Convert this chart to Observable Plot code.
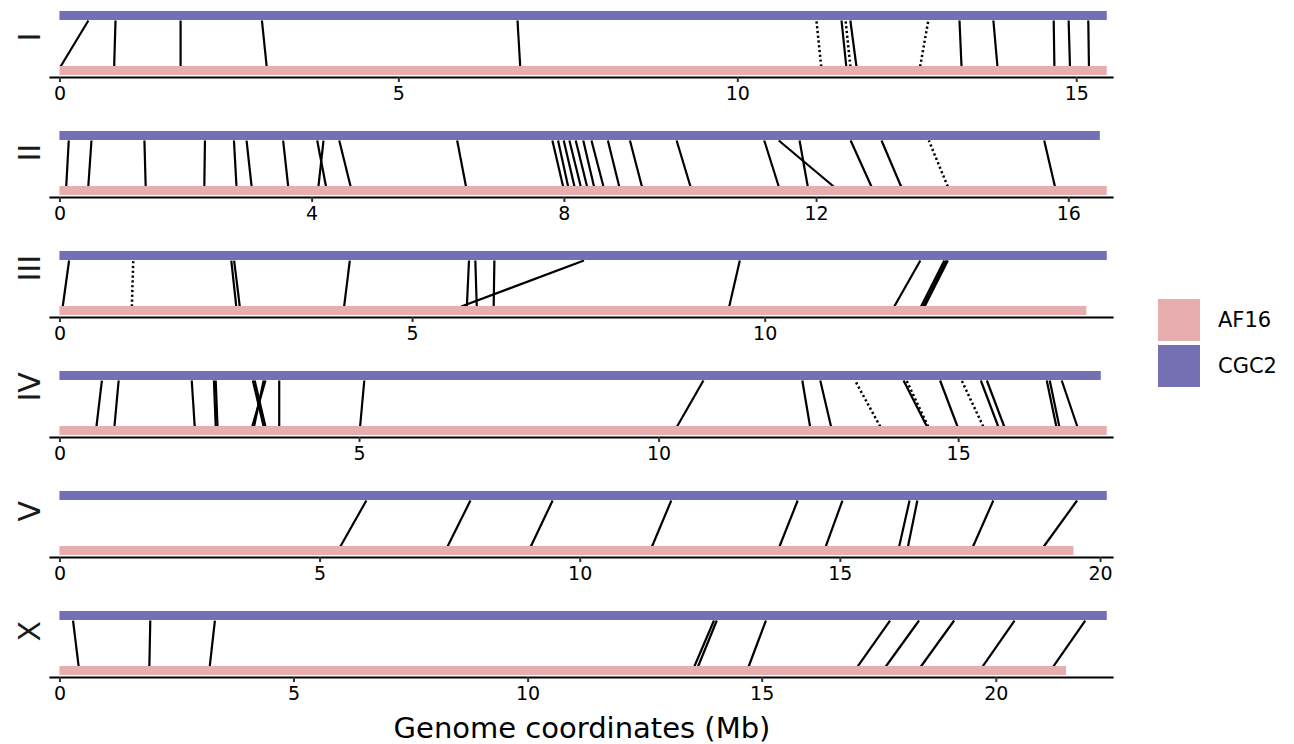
<!DOCTYPE html>
<html><head><meta charset="utf-8">
<script src="https://cdn.jsdelivr.net/npm/d3@7"></script>
<script src="https://cdn.jsdelivr.net/npm/@observablehq/plot@0.6"></script>
<style>
body{margin:0;background:#fff;font-family:"DejaVu Sans",sans-serif;}
#wrap{position:relative;width:1294px;height:744px;overflow:hidden;}
.panel{position:absolute;left:0;}
#xtitle{position:absolute;top:711px;left:50px;width:1064px;text-align:center;font-size:29px;color:#000;}
#legend{position:absolute;left:1158px;top:298px;}
.lg{display:flex;align-items:center;height:44px;margin-bottom:2px;}
.sw{width:42px;height:42px;margin-right:18px;}
.lt{font-size:21px;color:#000;}
</style></head><body><div id="wrap"></div>
<script>
// ---- data ----
const chromosomes = ["I", "II", "III", "IV", "V", "X"];
const genomes = ["AF16", "CGC2"];
const genomeColors = ["#e6aeae", "#7570b3"];
// chromosome lengths (Mb)
const lenAF16 = [15.45, 16.61, 14.56, 17.48, 19.49, 21.50];
const lenCGC2 = [15.45, 16.50, 14.85, 17.38, 20.13, 22.37];
// axis ticks per chromosome
const ticksI = [0, 5, 10, 15];
const ticksII = [0, 4, 8, 12, 16];
const ticksIII = [0, 5, 10];
const ticksIV = [0, 5, 10, 15];
const ticksV = [0, 5, 10, 15, 20];
const ticksX = [0, 5, 10, 15, 20];
// links: [AF16 position, CGC2 position, dotted(1)/solid(0)]
const linksI = [[0.01,0.42,0],[0.80,0.82,0],[1.78,1.78,0],[3.05,2.98,0],[6.79,6.75,0],[11.23,11.16,1],[11.60,11.53,0],[11.66,11.59,1],[11.75,11.66,0],[12.69,12.81,1],[13.30,13.27,0],[13.83,13.77,0],[14.67,14.66,0],[14.90,14.88,0],[15.18,15.17,0]];
const linksII = [[0.10,0.14,0],[0.45,0.50,0],[1.36,1.34,0],[2.29,2.30,0],[2.80,2.76,0],[3.04,2.96,0],[3.62,3.54,0],[4.22,4.08,0],[4.10,4.18,0],[4.61,4.43,0],[6.44,6.30,0],[7.98,7.81,0],[8.06,7.90,0],[8.16,7.99,0],[8.26,8.08,0],[8.36,8.18,0],[8.47,8.30,0],[8.62,8.43,0],[8.87,8.69,0],[9.23,9.04,0],[10.00,9.78,0],[11.40,11.17,0],[12.27,11.40,0],[11.86,11.73,0],[12.87,12.54,0],[13.34,13.03,0],[14.08,13.78,1],[15.78,15.61,0]];
const linksIII = [[0.04,0.13,0],[1.02,1.04,1],[2.50,2.43,0],[2.55,2.47,0],[4.03,4.11,0],[5.77,5.80,0],[5.91,5.89,0],[6.15,6.16,0],[5.69,7.43,0],[9.49,9.64,0],[11.83,12.20,0],[12.21,12.54,0],[12.24,12.57,0],[12.26,12.59,0]];
const linksIV = [[0.61,0.70,0],[0.91,0.98,0],[2.25,2.20,0],[2.60,2.57,0],[2.63,2.60,0],[3.40,3.22,0],[3.43,3.25,0],[3.21,3.43,0],[3.24,3.40,0],[3.66,3.66,0],[5.01,5.08,0],[10.30,10.74,0],[12.52,12.39,0],[12.87,12.69,0],[13.69,13.27,1],[14.47,14.08,0],[14.49,14.13,1],[14.98,14.69,0],[15.41,15.05,1],[15.66,15.37,0],[15.76,15.47,0],[16.63,16.47,0],[16.68,16.52,0],[16.98,16.72,0]];
const linksV = [[5.39,5.89,0],[7.45,7.89,0],[9.05,9.47,0],[11.38,11.75,0],[13.83,14.18,0],[14.72,15.04,0],[16.13,16.33,0],[16.30,16.48,0],[17.55,17.94,0],[18.91,19.55,0]];
const linksX = [[0.40,0.28,0],[1.91,1.93,0],[3.20,3.31,0],[13.55,13.97,0],[13.63,14.03,0],[14.71,15.08,0],[17.04,17.73,0],[17.64,18.35,0],[18.39,19.10,0],[19.71,20.39,0],[21.22,21.90,0]];

const tickSets = [ticksI, ticksII, ticksIII, ticksIV, ticksV, ticksX];
const linkSets = [linksI, linksII, linksIII, linksIV, linksV, linksX];

// ---- drawing ----
const wrap = document.getElementById("wrap");
const barHalf = 0.082;
chromosomes.forEach((chr, i) => {
  const maxLen = Math.max(lenAF16[i], lenCGC2[i]);
  const bars = [
    {genome: "AF16", len: lenAF16[i], c: 0},
    {genome: "CGC2", len: lenCGC2[i], c: 1}
  ];
  const links = linkSets[i];
  const chart = Plot.plot({
    width: 1120, height: 120,
    marginLeft: 50, marginRight: 8, marginTop: 5, marginBottom: 43,
    style: {fontFamily: "DejaVu Sans", fontSize: "19px", background: "transparent", color: "black"},
    x: {domain: [-0.009 * maxLen, maxLen * 1.005]},
    y: {domain: [0, 1], range: [70.5, 15.5], axis: null},
    color: {domain: genomes, range: genomeColors},
    marks: [
      Plot.link(links.filter(d => !d[2]), {x1: d => d[0], y1: () => barHalf, x2: d => d[1], y2: () => 1 - barHalf, stroke: "black", strokeWidth: 2.2}),
      Plot.link(links.filter(d => d[2]), {x1: d => d[0], y1: () => barHalf, x2: d => d[1], y2: () => 1 - barHalf, stroke: "black", strokeWidth: 2.5, strokeDasharray: "2.2,2.6"}),
      Plot.rect(bars, {x1: () => 0, x2: d => d.len, y1: d => d.c - barHalf, y2: d => d.c + barHalf, fill: d => d.genome}),
      Plot.frame({anchor: "bottom", stroke: "black", strokeWidth: 2.2}),
      Plot.axisX({ticks: tickSets[i], tickFormat: d => d, tickSize: 5, tickPadding: 4, fontSize: 19, stroke: "#333", strokeWidth: 2, label: null, fill: "black"}),
      Plot.text([chr], {text: d => d, frameAnchor: "left", dx: -20, rotate: -90, fontSize: 30, fill: "#1a1a1a"})
    ]
  });
  chart.classList.add("panel");
  chart.style.top = (i * 120) + "px";
  wrap.appendChild(chart);
});

const title = document.createElement("div");
title.id = "xtitle";
title.textContent = "Genome coordinates (Mb)";
wrap.appendChild(title);

const legend = document.createElement("div");
legend.id = "legend";
genomes.forEach((g, k) => {
  const row = document.createElement("div");
  row.className = "lg";
  const sw = document.createElement("div");
  sw.className = "sw";
  sw.style.background = genomeColors[k];
  const t = document.createElement("span");
  t.className = "lt";
  t.textContent = g;
  row.appendChild(sw); row.appendChild(t);
  legend.appendChild(row);
});
wrap.appendChild(legend);
</script>
</body></html>
